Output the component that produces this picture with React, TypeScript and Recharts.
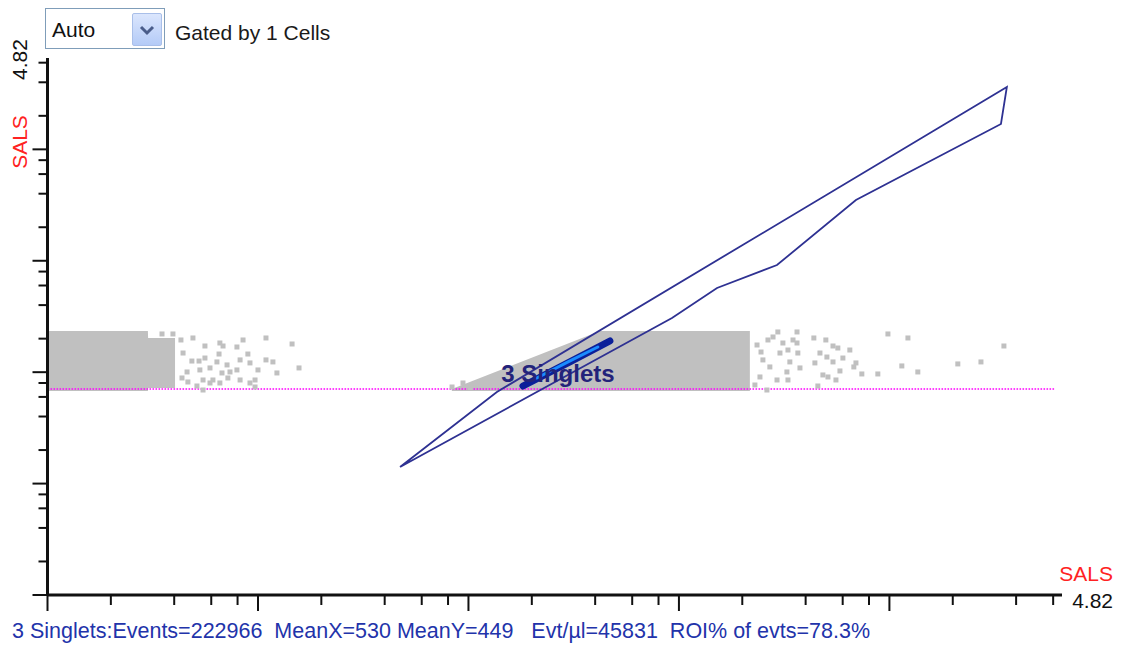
import { ComposedChart, Area, Scatter, XAxis, YAxis, ReferenceLine } from 'recharts';

// both axes are in log decades (0 .. 4.82)
const AXIS_MAX = 4.82;

const decadeTicks = [0, 1, 2, 3, 4];
const minorTicks = [
  0.301, 0.602, 0.778, 0.903,
  1.301, 1.602, 1.778, 1.903,
  2.301, 2.602, 2.778, 2.903,
  3.301, 3.602, 3.778, 3.903,
  4.301, 4.602, 4.778,
];
const axisTicks = [...decadeTicks, ...minorTicks].sort((a, b) => a - b);

// dense grey event clouds (lower / upper edge of the band)
const blobX = [0, 0.477, 0.478, 0.606, 0.607, 1.921, 2.625, 3.337];
const blobLow = [1.831, 1.831, 1.858, 1.858, null, 1.831, 1.831, 1.831];
const blobHigh = [2.37, 2.37, 2.307, 2.307, null, 1.849, 2.37, 2.37];

// sparse grey events
const sparseX = [
  0.544, 0.596, 0.634, 0.691, 0.748, 0.819, 0.834, 0.9, 0.929, 0.952, 1.038, 1.162,
  0.644, 0.686, 0.72, 0.748, 0.815, 0.805, 0.853, 0.915, 0.962, 1.038, 1.071, 1.195,
  0.663, 0.724, 0.772, 0.829, 0.867, 0.9, 1.0, 1.09, 0.639, 0.667, 0.739, 0.786,
  0.857, 0.915, 0.986, 0.71, 0.772, 0.819, 0.962, 0.986, 0.739,
  1.922, 1.974, 2.007,
  3.993, 4.088, 4.544, 3.641, 3.698, 3.732, 3.755, 3.812, 3.67, 3.703, 3.779, 3.732,
  3.646, 3.841, 3.831, 4.059, 4.325, 4.435, 3.765, 3.684, 3.708, 3.869, 3.945, 4.135,
  3.746, 3.66, 3.47, 3.561, 3.542, 3.494, 3.518, 3.565, 3.48, 3.527, 3.575, 3.513,
  3.466, 3.518, 3.418, 3.561, 3.432, 3.385, 3.399, 3.447, 3.371, 3.39, 3.361, 3.423,
];
const sparseY = [
  2.343, 2.343, 2.289, 2.307, 2.235, 2.262, 2.235, 2.226, 2.289, 2.163, 2.307, 2.253,
  2.172, 2.1, 2.1, 2.127, 2.163, 2.092, 2.065, 2.11, 2.083, 2.11, 2.092, 2.038,
  2.002, 2.02, 2.038, 1.993, 2.002, 2.02, 2.02, 1.993, 1.948, 1.912, 1.93, 1.93,
  1.948, 1.93, 1.93, 1.876, 1.903, 1.903, 1.903, 1.867, 1.84,
  1.867, 1.903, 1.858,
  2.343, 2.307, 2.235, 2.307, 2.289, 2.235, 2.217, 2.199, 2.172, 2.136, 2.127, 2.092,
  2.083, 2.083, 2.047, 2.056, 2.074, 2.092, 2.011, 1.975, 1.957, 1.984, 1.984, 2.002,
  1.93, 1.876, 2.361, 2.361, 2.289, 2.262, 2.199, 2.172, 2.172, 2.092, 2.038, 2.002,
  1.93, 1.93, 1.84, 2.262, 2.047, 1.957, 2.11, 2.316, 2.244, 2.181, 1.885, 2.289,
];

// "3 Singlets" polygon gate
const gateX = [1.675, 2.135, 4.558, 4.53, 3.841, 3.466, 3.181, 2.967, 1.675];
const gateY = [1.149, 1.822, 4.56, 4.228, 3.546, 2.962, 2.756, 2.487, 1.149];

// gated population (dark rim, bright core)
const clusterOuterX = [2.259, 2.482, 2.672];
const clusterOuterY = [1.876, 2.092, 2.28];
const clusterInnerX = [2.325, 2.473, 2.615];
const clusterInnerY = [1.948, 2.092, 2.226];

const gateLabel = [{ x: 2.425, y: 1.984, text: '3 Singlets' }];
const thresholdY = 1.849;

const statsText = '3 Singlets:Events=222966  MeanX=530 MeanY=449   Evt/\u00b5l=45831  ROI% of evts=78.3%';

const zip = (xs: number[], ys: number[]) => xs.map((x, i) => ({ x, y: ys[i] }));

const blobRows = blobX.map((x, i) => ({
  x,
  band: blobLow[i] == null ? null : [blobLow[i], blobHigh[i]],
}));

const FONT = '"Liberation Sans", Arial, sans-serif';

const TickX = (props: any) => {
  const { x, y, payload } = props;
  const len = decadeTicks.includes(payload.value) ? 16 : 10;
  return <line x1={x} y1={y} x2={x} y2={y + len} stroke="#111" strokeWidth={2} />;
};

const TickY = (props: any) => {
  const { x, y, payload } = props;
  const len = decadeTicks.includes(payload.value) ? 15 : 9;
  return <line x1={x} y1={y} x2={x - len} y2={y} stroke="#111" strokeWidth={2} />;
};

const GrayDot = (props: any) => (
  <rect x={props.cx - 2.5} y={props.cy - 2.5} width={5} height={5} fill="#c0c0c0" />
);

const NoDot = () => <g />;

const GateText = (props: any) => (
  <text
    x={props.cx}
    y={props.cy + 8.5}
    textAnchor="middle"
    fontFamily={FONT}
    fontSize={24}
    fontWeight="bold"
    fill="#23237a"
  >
    {props.payload.text}
  </text>
);

export default function App() {
  return (
    <div style={{ position: 'absolute', left: 0, top: 0, width: 1125, height: 648, background: '#fff', fontFamily: FONT }}>
      <ComposedChart
        width={1125}
        height={648}
        data={blobRows}
        margin={{ top: 58, right: 63, bottom: 33, left: 27.5 }}
      >
        <XAxis
          type="number"
          dataKey="x"
          domain={[0, AXIS_MAX]}
          ticks={axisTicks}
          interval={0}
          allowDataOverflow
          height={20}
          tickSize={0}
          tickMargin={0}
          tickLine={false}
          tick={TickX}
          axisLine={{ stroke: '#111', strokeWidth: 3 }}
        />
        <YAxis
          type="number"
          dataKey="y"
          domain={[0, AXIS_MAX]}
          ticks={axisTicks}
          interval={0}
          allowDataOverflow
          width={20}
          tickSize={0}
          tickMargin={0}
          tickLine={false}
          tick={TickY}
          axisLine={{ stroke: '#111', strokeWidth: 3 }}
        />
        <Area
          dataKey="band"
          type="linear"
          stroke="none"
          fill="#c0c0c0"
          fillOpacity={1}
          connectNulls={false}
          dot={false}
          activeDot={false}
          isAnimationActive={false}
        />
        <Scatter data={zip(sparseX, sparseY)} shape={GrayDot} isAnimationActive={false} />
        <ReferenceLine
          segment={[{ x: 0, y: thresholdY }, { x: 4.786, y: thresholdY }]}
          stroke="#ff00ff"
          strokeWidth={1.6}
          strokeDasharray="1.6 1.4"
        />
        <Scatter
          data={zip(gateX, gateY)}
          line={{ stroke: '#2e3192', strokeWidth: 1.8 }}
          lineType="joint"
          shape={NoDot}
          isAnimationActive={false}
        />
        <Scatter
          data={zip(clusterOuterX, clusterOuterY)}
          line={{ stroke: '#0b1f99', strokeWidth: 7, strokeLinecap: 'round' }}
          lineType="joint"
          shape={NoDot}
          isAnimationActive={false}
        />
        <Scatter
          data={zip(clusterInnerX, clusterInnerY)}
          line={{ stroke: '#1a8cff', strokeWidth: 3, strokeLinecap: 'round' }}
          lineType="joint"
          shape={NoDot}
          isAnimationActive={false}
        />
        <Scatter data={gateLabel} shape={GateText} isAnimationActive={false} />
      </ComposedChart>

      <svg width={1125} height={648} style={{ position: 'absolute', left: 0, top: 0, pointerEvents: 'none' }}>
        <text x={26.7} y={59.5} transform="rotate(-90 26.7 59.5)" textAnchor="middle" fontFamily={FONT} fontSize={21} fill="#111">4.82</text>
        <text x={27} y={142} transform="rotate(-90 27 142)" textAnchor="middle" fontFamily={FONT} fontSize={21} fill="#ff2222">SALS</text>
        <text x={1113} y={581} textAnchor="end" fontFamily={FONT} fontSize={21} fill="#ff2222">SALS</text>
        <text x={1113} y={607.5} textAnchor="end" fontFamily={FONT} fontSize={21} fill="#111">4.82</text>
      </svg>

      {/* gate selector */}
      <div style={{ position: 'absolute', left: 45, top: 8, width: 118, height: 39, border: '1px solid #7f9db9', background: '#fff' }} />
      <div style={{ position: 'absolute', left: 52, top: 19, fontSize: 21, lineHeight: '21px', color: '#111' }}>Auto</div>
      <div
        style={{
          position: 'absolute', left: 132, top: 13, width: 28, height: 31,
          border: '1px solid #a9bfe9', borderRadius: 2,
          background: 'linear-gradient(#dbe6fd, #b4cbf7)',
        }}
      >
        <svg width={28} height={31} style={{ position: 'absolute', left: 0, top: 0 }}>
          <polyline points="8,13 14,19 20,13" fill="none" stroke="#4a5d8a" strokeWidth={3} />
        </svg>
      </div>
      <div style={{ position: 'absolute', left: 175, top: 22, fontSize: 21, lineHeight: '21px', color: '#1a1a1a' }}>Gated by 1 Cells</div>

      <div style={{ position: 'absolute', left: 12, top: 621, fontSize: 21.5, lineHeight: '21px', color: '#2233aa', whiteSpace: 'pre' }}>
        {statsText}
      </div>
    </div>
  );
}
